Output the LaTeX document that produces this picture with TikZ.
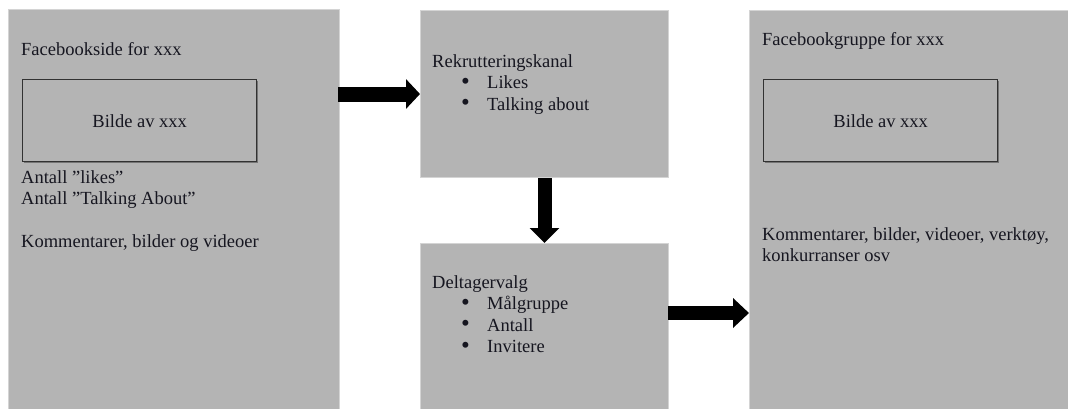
\documentclass[tikz,border=0pt]{standalone}
\usepackage{fontspec}
\setmainfont{Liberation Serif}
\usetikzlibrary{arrows.meta,shadows,calc}
\definecolor{boxgray}{RGB}{180,180,180}
\definecolor{rimgray}{RGB}{212,212,212}
\definecolor{txt}{RGB}{22,22,32}
\definecolor{inner}{RGB}{50,50,50}
\tikzset{
  gbox/.style={fill=boxgray, draw=rimgray, line width=1pt, anchor=north west, inner sep=0pt},
  picbox/.style={fill=boxgray, draw=inner, line width=1.4pt, anchor=north west, inner sep=0pt,
    minimum width=234pt, minimum height=82pt, text=txt,
    font=\fontsize{18.5}{21.6}\selectfont,
    drop shadow={shadow xshift=0.8pt, shadow yshift=-1.2pt, opacity=0.35, fill=black}},
  lbl/.style={anchor=base west, inner sep=0pt, text=txt, font=\fontsize{18.5}{21.6}\selectfont},
  blockarrow/.style={line width=15pt, draw=black, -{Triangle[length=15pt, width=29pt]}},
}
\newcommand{\bitem}[1]{\hspace*{29pt}\makebox[26pt][l]{\raisebox{-0.5pt}{\scalebox{1.35}{•}}}#1}
\begin{document}
\begin{tikzpicture}[x=1pt, y=-1pt]
\useasboundingbox (0,0) rectangle (1068,408);
\begin{scope}
\clip (0,0) rectangle (1068,408);
% big boxes
\node[gbox, minimum width=331pt, minimum height=430pt] (fbside) at (8,9) {};
\node[gbox, minimum width=248pt, minimum height=167pt] (rekr) at (420,10) {};
\node[gbox, minimum width=248pt, minimum height=200pt] (delt) at (420,243) {};
\node[gbox, minimum width=340pt, minimum height=430pt] (fbgrp) at (749,10) {};

% left box content
\node[lbl] (t1) at (21,55) {Facebookside for xxx};
\node[picbox] (pic1) at (22,79) {Bilde av xxx};
\node[lbl] (t2) at (21,183) {\begin{tabular}[t]{@{}l@{}}Antall ”likes”\\Antall ”Talking About”\\ \\Kommentarer, bilder og videoer\end{tabular}};

% top middle
\node[lbl] (t3) at (432,67) {\begin{tabular}[t]{@{}l@{}}Rekrutteringskanal\\\bitem{Likes}\\\bitem{Talking about}\end{tabular}};

% bottom middle
\node[lbl] (t4) at (432,288) {\begin{tabular}[t]{@{}l@{}}Deltagervalg\\\bitem{Målgruppe}\\\bitem{Antall}\\\bitem{Invitere}\end{tabular}};

% right box
\node[lbl] (t5) at (762,45) {Facebookgruppe for xxx};
\node[picbox] (pic2) at (763,79) {Bilde av xxx};
\node[lbl] (t6) at (762,240) {\begin{tabular}[t]{@{}l@{}}Kommentarer, bilder, videoer, verktøy,\\konkurranser osv\end{tabular}};

% arrows
\draw[blockarrow, -{Triangle[length=14pt, width=29pt]}] ([xshift=-2pt]fbside.east |- rekr.west) -- (rekr.west);
\draw[blockarrow, line width=14pt] (rekr.south) -- (delt.north);
\coordinate (a2) at ($(delt.north east)+(0,70)$);
\draw[blockarrow, line width=14pt, -{Triangle[length=16pt, width=29pt]}] ([xshift=-1pt]a2) -- (fbgrp.west |- a2);
\end{scope}
\end{tikzpicture}
\end{document}
